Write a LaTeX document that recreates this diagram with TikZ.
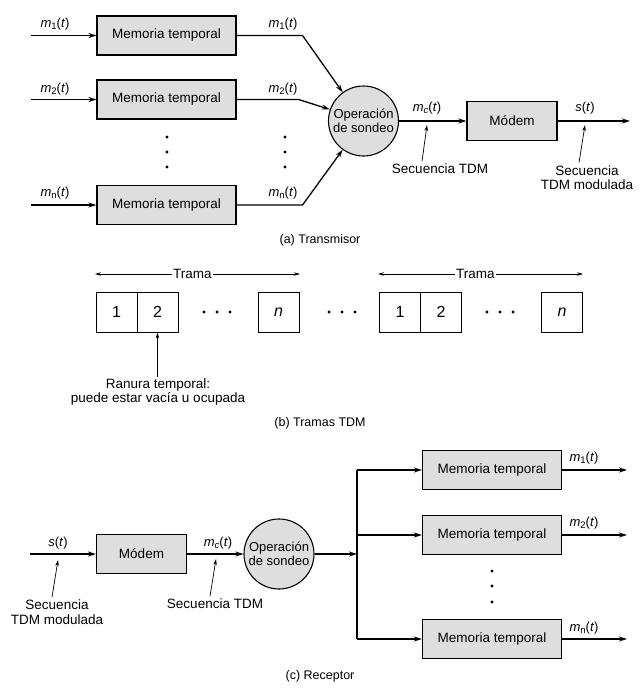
\documentclass[tikz,border=0pt]{standalone}
\usepackage{fontspec}
\setmainfont{Liberation Sans}
\usetikzlibrary{arrows.meta}
\newcommand{\subsc}[1]{\raisebox{-0.28ex}{\fontsize{9.5}{10}\selectfont #1}}
\newcommand{\sig}[2]{\textit{#1}\subsc{#2}(\textit{t})}
\begin{document}
\begin{tikzpicture}[x=1pt,y=-1pt,
  font=\fontsize{12.5}{14}\selectfont,
  line width=1.3pt,
  arr/.style={-{Stealth[length=8pt,width=5pt]}},
  ptr/.style={line width=0.7pt,-{Stealth[length=6pt,width=3.5pt]}},
  mem/.style={draw,fill=black!13,line width=1.1pt,minimum width=139pt,minimum height=39pt,inner sep=0pt,font=\fontsize{13.5}{15}\selectfont},
  modem/.style={draw,fill=black!13,line width=1.1pt,minimum width=90pt,minimum height=39pt,inner sep=0pt,font=\fontsize{13.5}{15}\selectfont},
  poll/.style={draw,circle,fill=black!13,line width=1.1pt,minimum size=70pt,inner sep=0pt,align=center,font=\fontsize{13}{14.5}\selectfont},
  slot/.style={draw,line width=0.9pt,minimum width=41pt,minimum height=40pt,inner sep=0pt,font=\fontsize{16}{18}\selectfont},
  lbl/.style={inner sep=1pt,font=\fontsize{13}{15}\selectfont},
  note/.style={align=center,inner sep=1pt,font=\fontsize{13.5}{14.5}\selectfont},
  caption/.style={inner sep=1pt,font=\fontsize{12.5}{14}\selectfont},
  dot/.style={circle,fill=black,inner sep=0pt,minimum size=3.2pt}
]
\useasboundingbox (0,0) rectangle (641,688);

% ---------------- (a) Transmisor ----------------
\node[mem] (m1) at (166.5,35.5) {Memoria temporal};
\node[mem] (m2) at (166.5,99.5) {Memoria temporal};
\node[mem] (mn) at (166.5,205) {Memoria temporal};
\coordinate (i1) at (31,35.5);
\coordinate (i2) at (31,99.5);
\coordinate (in) at (31,205);
\draw[arr] (i1) -- (m1.west);
\draw[arr] (i2) -- (m2.west);
\draw[arr] (in) -- (mn.west);
\node[lbl] (li1) at (55,24) {\sig{m}{1}};
\node[lbl] (li2) at (55,89) {\sig{m}{2}};
\node[lbl] (lin) at (55,193) {\sig{m}{n}};

\node[poll] (pollA) at (363.5,121) {Operación\\de sondeo};
\draw[arr] (m1.east) -- ++(66,0) -- (pollA.126);
\draw[arr] (m2.east) -- ++(62,0) -- (pollA.161);
\draw[arr] (mn.east) -- ++(66,0) -- (pollA.234);
\node[lbl] (lo1) at (283,24) {\sig{m}{1}};
\node[lbl] (lo2) at (283,89) {\sig{m}{2}};
\node[lbl] (lon) at (283,193) {\sig{m}{n}};

\foreach \yy in {137,152,167} {
  \node[dot] at (167,\yy) {};
  \node[dot] at (285,\yy) {};
}

\node[modem] (modA) at (512,121) {Módem};
\coordinate (outA) at (630,121);
\draw[arr] (pollA.east) -- (modA.west);
\draw[arr] (modA.east) -- (outA);
\node[lbl] (lmcA) at (427,108) {\sig{m}{\textit{c}}};
\node[lbl] (lsA) at (585,108) {\textit{s}(\textit{t})};

\node[note] (tdmA) at (440,169) {Secuencia TDM};
\coordinate (tdmAtip) at (427,125);
\draw[ptr] ([xshift=-18pt,yshift=1pt]tdmA.north) -- (tdmAtip);
\node[note] (modulA) at (587,177.5) {Secuencia\\TDM modulada};
\coordinate (modulAtip) at (585,125);
\draw[ptr] ([xshift=-8pt,yshift=1pt]modulA.north) -- (modulAtip);

\node[caption] (capA) at (320,240) {(a) Transmisor};

% ---------------- (b) Tramas TDM ----------------
\node[slot] (s1) at (116.5,312) {1};
\node[slot] (s2) at (157.5,312) {2};
\node[slot] (sn) at (278.5,312) {\textit{n}};
\node[slot] (t1) at (400,312) {1};
\node[slot] (t2) at (441,312) {2};
\node[slot] (tn) at (562,312) {\textit{n}};
\foreach \xx in {217,342,500} {
  \node[dot] at (\xx-13,312) {};
  \node[dot] at (\xx,312) {};
  \node[dot] at (\xx+13,312) {};
}
\coordinate (f1a) at (95,274);
\coordinate (f1b) at (300,274);
\coordinate (f2a) at (378,274);
\coordinate (f2b) at (583,274);
\draw[ptr,{Stealth[length=6pt,width=3.5pt]}-{Stealth[length=6pt,width=3.5pt]}] (f1a) -- (f1b)
  node[pos=0.475,fill=white,inner sep=1pt,font=\fontsize{13.5}{15}\selectfont] (tr1) {Trama};
\draw[ptr,{Stealth[length=6pt,width=3.5pt]}-{Stealth[length=6pt,width=3.5pt]}] (f2a) -- (f2b)
  node[pos=0.475,fill=white,inner sep=1pt,font=\fontsize{13.5}{15}\selectfont] (tr2) {Trama};

\node[note] (ranura) at (158,392) {Ranura temporal:\\puede estar vacía u ocupada};
\draw[ptr,line width=0.8pt] (ranura.north -| s2.south) -- (s2.south);

\node[caption] (capB) at (320,423) {(b) Tramas TDM};

% ---------------- (c) Receptor ----------------
\coordinate (inC) at (30,554);
\node[modem] (modC) at (141.5,554) {Módem};
\node[poll] (pollC) at (279,554) {Operación\\de sondeo};
\coordinate (split) at (357,554);
\coordinate (spTop) at (357,470);
\coordinate (spBot) at (357,639);
\draw[arr] (inC) -- (modC.west);
\draw[arr] (modC.east) -- (pollC.west);
\draw[arr] (pollC.east) -- (split);
\draw (spTop) -- (spBot);

\node[mem] (r1) at (492,470) {Memoria temporal};
\node[mem] (r2) at (492,535) {Memoria temporal};
\node[mem] (rn) at (492,639) {Memoria temporal};
\draw[arr] (spTop) -- (r1.west);
\draw[arr] (split |- r2) -- (r2.west);
\draw[arr] (spBot) -- (rn.west);
\coordinate (o1) at (627,470);
\coordinate (o2) at (627,535);
\coordinate (on) at (627,639);
\draw[arr] (r1.east) -- (o1);
\draw[arr] (r2.east) -- (o2);
\draw[arr] (rn.east) -- (on);
\node[lbl] (lr1) at (584,458) {\sig{m}{1}};
\node[lbl] (lr2) at (584,523) {\sig{m}{2}};
\node[lbl] (lrn) at (584,628) {\sig{m}{n}};
\foreach \yy in {571,586,602} \node[dot] at (492,\yy) {};

\node[lbl] (lsC) at (58,543) {\textit{s}(\textit{t})};
\node[lbl] (lmcC) at (218,543) {\sig{m}{\textit{c}}};
\node[note] (modulC) at (57,612) {Secuencia\\TDM modulada};
\coordinate (modulCtip) at (58,560);
\draw[ptr] ([xshift=-5pt,yshift=1pt]modulC.north) -- (modulCtip);
\node[note] (tdmC) at (215,604) {Secuencia TDM};
\coordinate (tdmCtip) at (216,559);
\draw[ptr] ([xshift=-5pt,yshift=1pt]tdmC.north) -- (tdmCtip);

\node[caption] (capC) at (320,676) {(c) Receptor};
\end{tikzpicture}
\end{document}
